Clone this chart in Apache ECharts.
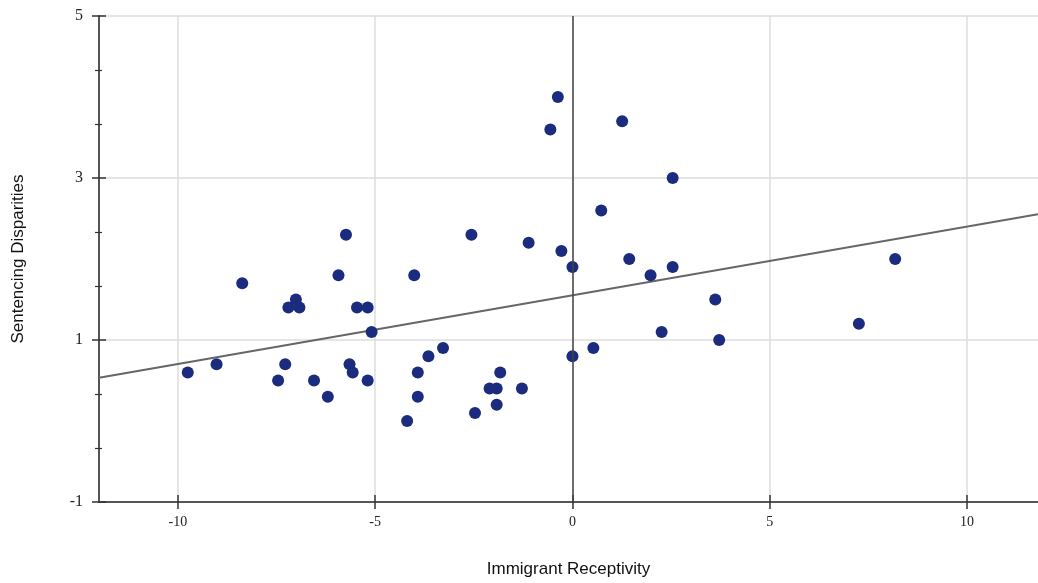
<!DOCTYPE html>
<html>
<head>
<meta charset="utf-8">
<script src="https://cdn.jsdelivr.net/npm/echarts@6/dist/echarts.min.js"></script>
<style>html,body{margin:0;padding:0;background:#fff}#c{width:1038px;height:583px}</style>
</head>
<body>
<div id="c"></div>
<script>
// Immigrant Receptivity (x) vs Sentencing Disparities (y)
const receptivity = [-9.75,-9.02,-8.37,-7.46,-7.28,-7.20,-7.01,-6.92,-6.55,-6.20,-5.93,-5.74,-5.65,-5.57,-5.46,-5.19,-5.19,-5.09,-4.19,-4.01,-3.92,-3.92,-3.65,-3.28,-2.56,-2.47,-2.10,-1.92,-1.92,-1.83,-1.28,-1.11,-0.56,-0.37,-0.28,0.00,0.00,0.53,0.73,1.26,1.44,1.98,2.26,2.54,2.54,3.62,3.72,7.26,8.18];
const disparities = [0.6,0.7,1.7,0.5,0.7,1.4,1.5,1.4,0.5,0.3,1.8,2.3,0.7,0.6,1.4,1.4,0.5,1.1,0.0,1.8,0.6,0.3,0.8,0.9,2.3,0.1,0.4,0.4,0.2,0.6,0.4,2.2,3.6,4.0,2.1,1.9,0.8,0.9,2.6,3.7,2.0,1.8,1.1,3.0,1.9,1.5,1.0,1.2,2.0];
// fitted trend line endpoints
const trendX = [-12, 11.8];
const trendY = [0.535, 2.554];
const xTicks = [-10, -5, 0, 5, 10];

const points = receptivity.map((x, i) => [x, disparities[i]]);
const trend = trendX.map((x, i) => [x, trendY[i]]);

const chart = echarts.init(document.getElementById('c'), null, {renderer: 'canvas'});
const serif = 'Liberation Serif, Times New Roman, serif';
const sans = 'Liberation Sans, Arial, Helvetica, sans-serif';
const axisColor = '#555';

const xBase = {
  type: 'value', min: -12, max: 11.8,
  axisLine: {show: true, onZero: false, lineStyle: {color: axisColor, width: 2}},
};
const yBase = {
  type: 'value', min: -1, max: 5, interval: 2,
  axisLine: {show: true, onZero: false, lineStyle: {color: axisColor, width: 2}},
};

chart.setOption({
  animation: false,
  backgroundColor: '#fff',
  grid: {left: 99, right: 0, top: 16, bottom: 76, containLabel: false},
  xAxis: [
    Object.assign({}, xBase, {
      name: 'Immigrant Receptivity', nameLocation: 'middle', nameGap: 59,
      nameTextStyle: {fontFamily: sans, fontSize: 17, color: '#111'},
      axisTick: {show: true, length: 7, inside: false, customValues: xTicks, lineStyle: {color: '#333', width: 1.5}},
      axisLabel: {customValues: xTicks, margin: 13, fontFamily: serif, fontSize: 14, color: '#222'},
      splitLine: {show: true, lineStyle: {color: '#dcdcdc', width: 1.5}}
    }),
    Object.assign({}, xBase, {
      position: 'bottom',
      axisLine: {show: false, onZero: false},
      axisTick: {show: true, length: 7, inside: true, customValues: xTicks, lineStyle: {color: '#333', width: 1.5}},
      axisLabel: {show: false, customValues: xTicks},
      splitLine: {show: false}
    })
  ],
  yAxis: [
    Object.assign({}, yBase, {
      name: 'Sentencing Disparities', nameLocation: 'middle', nameGap: 72,
      nameTextStyle: {fontFamily: sans, fontSize: 17, color: '#111'},
      axisTick: {show: true, length: 7, inside: false, lineStyle: {color: '#333', width: 1.5}},
      minorTick: {show: true, splitNumber: 3, length: 4, lineStyle: {color: '#333', width: 1.2}},
      axisLabel: {margin: 16, fontFamily: serif, fontSize: 16, color: '#222'},
      splitLine: {show: true, lineStyle: {color: '#dcdcdc', width: 1.5}},
      minorSplitLine: {show: false}
    }),
    Object.assign({}, yBase, {
      position: 'left',
      axisLine: {show: false, onZero: false},
      axisTick: {show: true, length: 7, inside: true, lineStyle: {color: '#333', width: 1.5}},
      minorTick: {show: true, splitNumber: 3, length: 3, lineStyle: {color: '#333', width: 1.2}},
      axisLabel: {show: false},
      splitLine: {show: false}
    })
  ],
  series: [
    {
      type: 'line', data: trend, xAxisIndex: 0, yAxisIndex: 0,
      showSymbol: false, symbol: 'none', silent: true, z: 2,
      lineStyle: {color: '#666', width: 2},
      markLine: {
        silent: true, symbol: 'none', animation: false,
        label: {show: false},
        lineStyle: {color: '#444', width: 1.5, type: 'solid'},
        data: [{xAxis: 0}]
      }
    },
    {
      type: 'scatter', data: points, xAxisIndex: 0, yAxisIndex: 0,
      symbolSize: 12, z: 3,
      itemStyle: {color: '#1b2b7e', opacity: 1}
    }
  ]
});
</script>
</body>
</html>
